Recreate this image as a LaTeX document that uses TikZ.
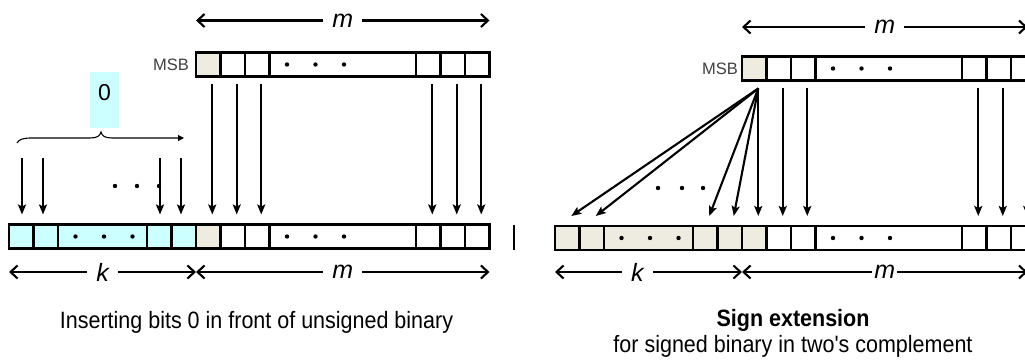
\documentclass[tikz,border=0pt]{standalone}
\usepackage{fontspec}
\setmainfont{Liberation Sans}
\usepackage{xcolor}
\usepackage{graphicx}
\usetikzlibrary{arrows.meta,positioning,calc}
\definecolor{zerofill}{HTML}{CCFFFF}
\definecolor{signfill}{HTML}{EEEBE0}
\definecolor{msbtext}{HTML}{404040}
\newcommand\tallline[1]{\scalebox{1}[1.1]{#1}}

\begin{document}
\begin{tikzpicture}[
  x=1pt, y=-1pt,
  cell/.style={draw, line width=2.2pt, minimum height=24pt, inner sep=0pt, outer sep=0pt},
  bitarr/.style={-{Stealth[length=10pt,width=8pt,inset=2pt]}, line width=2.1pt},
  dimarr/.style={{Straight Barb[length=7pt,width=13pt]}-{Straight Barb[length=7pt,width=13pt]}, line width=2.1pt},
  dimlbl/.style={fill=white, inner xsep=9pt, inner ysep=3pt, font=\fontsize{25}{28}\selectfont\itshape},
  msb/.style={text=msbtext, inner sep=1pt, font=\fontsize{16.5}{19}\selectfont},
  captxt/.style={align=center, font=\fontsize{21.5}{26}\selectfont},
]
\useasboundingbox (0,0) rectangle (1025,363);
\clip (0,0) rectangle (1025,363);

% registers: m bits on top and below, k new bits in front
\foreach \s/\dx/\ty/\by/\kf in {l/0/64.5/236.5/zerofill, r/546/68.5/238/signfill}{
  \foreach \i/\x/\w/\f in {1/196/24.5/signfill, 2/220.5/24.5/white, 3/245/24.5/white,
      4/269.5/146.5/white, 5/416/24.5/white, 6/440.5/24.5/white, 7/465/24.5/white}{
    \node[cell, fill=\f, minimum width=\w pt] (\s t\i) at (\x+\w/2+\dx,\ty) {};
    \node[cell, fill=\f, minimum width=\w pt] (\s b\i) at (\x+\w/2+\dx,\by) {};
  }
  \foreach \i/\x/\w in {1/9/24.5, 2/33.5/24.5, 3/58/89, 4/147/24.5, 5/171.5/24.5}
    \node[cell, fill=\kf, minimum width=\w pt] (\s k\i) at (\x+\w/2+\dx,\by) {};
}
\foreach \s/\n in {l/t4, l/b4, l/k3, r/t4, r/b4, r/k3}
  \foreach \d in {17.5,46,74.5}
    \fill ([xshift=\d pt]\s\n.west) circle (2.2pt);

\node[msb, left=6pt of lt1] (lmsb) {MSB};
\node[msb, left=3pt of rt1] (rmsb) {MSB};

% unsigned: copy m bits, zeros in front
\foreach \i in {1,2,3,5,6,7}
  \draw[bitarr] ([shift={(4pt,-8pt)}]lt\i.south) -- ([shift={(4pt,10pt)}]lb\i.north);
\foreach \i/\x in {1/22, 2/43, 4/160, 5/181}{
  \coordinate (z\i) at (\x,158);
  \draw[bitarr, shorten >=10pt] (z\i) -- (z\i |- lk\i.north);
}
\foreach \x in {115,137,159} \fill (\x,186) circle (2.2pt);
\draw[line width=1.1pt, -{Triangle[length=6pt,width=6pt]}] (17,143) .. controls (19,139) and (24,138) .. (32,138)
  -- (90,138) .. controls (97,138) and (100,136) .. (101,132)
  .. controls (102,136) and (105,138) .. (112,138) -- (184,138);
\node[fill=zerofill, minimum width=29pt, inner sep=0pt, text height=29pt, text depth=27pt,
  font=\fontsize{23}{26}\selectfont] (zero) at (104.5,100) {0};
\draw[line width=2pt] (514,225) -- (514,250);

% signed: MSB copied into the k new bits
\foreach \i in {2,3,5,6,7}
  \draw[bitarr] ([shift={(4pt,-8pt)}]rt\i.south) -- ([shift={(4pt,10pt)}]rb\i.north);
\coordinate (fan) at ([shift={(4pt,-8pt)}]rt1.south);
\foreach \t in {rk1,rk2,rk4,rk5,rb1}
  \draw[bitarr] (fan) -- ([shift={(4pt,10pt)}]\t.north);
\foreach \x in {658,682,703} \fill (\x,188) circle (2.2pt);

% widths
\draw[dimarr] ([yshift=32pt]lt1.north west) -- node[dimlbl]{m} ([yshift=32pt]lt7.north east);
\draw[dimarr] ([yshift=-23.5pt]lk1.south west) -- node[dimlbl]{k} ([yshift=-23.5pt]lk5.south east);
\draw[dimarr] ([yshift=-23.5pt]lb1.south west) -- node[dimlbl]{m} ([yshift=-23.5pt]lb7.south east);
\draw[dimarr] ([yshift=29.5pt]rt1.north west) -- node[dimlbl]{m} ([shift={(-8pt,29.5pt)}]rt7.north east);
\draw[dimarr] ([yshift=-22pt]rk1.south west) -- node[dimlbl, pos=0.44]{k} ([yshift=-22pt]rk5.south east);
\draw[dimarr] ([yshift=-22pt]rb1.south west) -- node[dimlbl, inner xsep=2pt]{m} ([shift={(-8pt,-22pt)}]rb7.south east);

\node[captxt] (lcap) at (256.5,322) {\tallline{Inserting bits 0 in front of unsigned binary}};
\node[captxt] (rcap) at (793,333) {\tallline{\textbf{Sign extension}}\\\tallline{for signed binary in two\textquotesingle s complement}};
\end{tikzpicture}
\end{document}
